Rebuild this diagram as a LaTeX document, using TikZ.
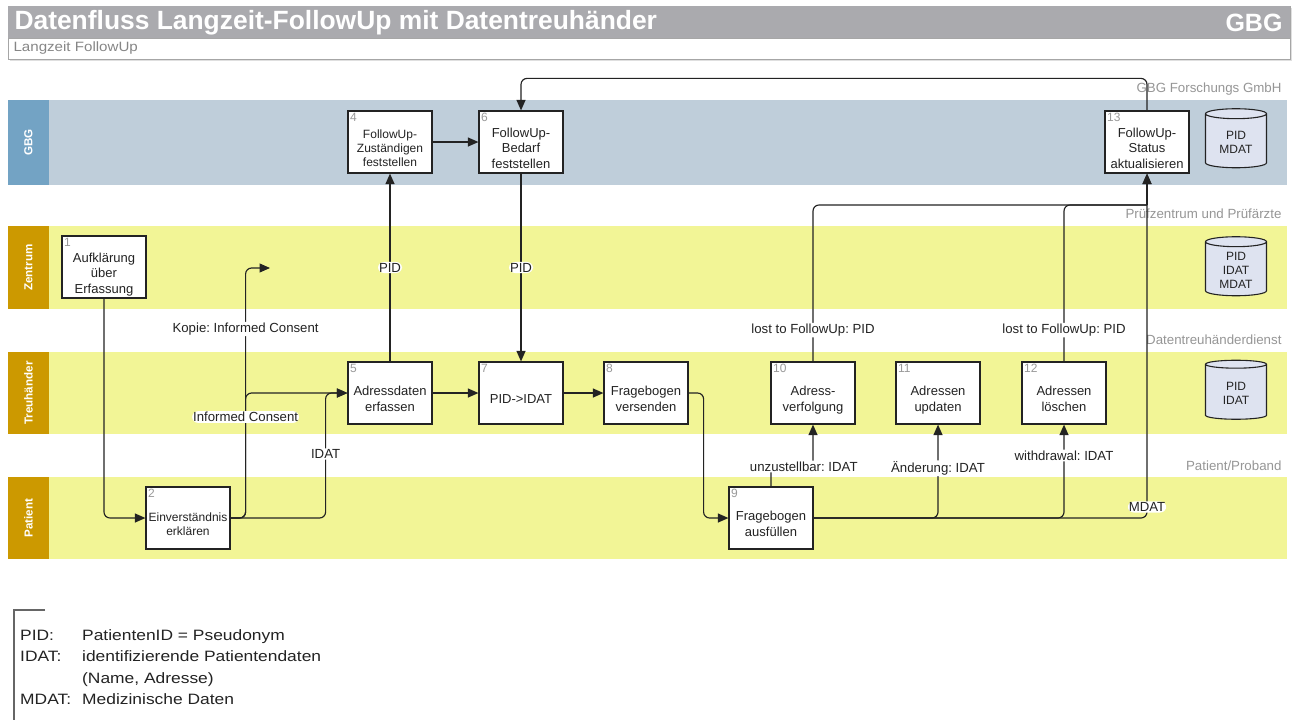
\documentclass[tikz,border=0pt]{standalone}
\usepackage{fontspec}
\setmainfont{Liberation Sans}
\newfontfamily\legendfont[FakeStretch=1.16]{Liberation Sans}
\newfontfamily\subfont[FakeStretch=1.12]{Liberation Sans}
\usetikzlibrary{arrows.meta,shapes.geometric}
\definecolor{gbglane}{RGB}{191,206,218}
\definecolor{gbglabel}{RGB}{115,163,196}
\definecolor{ylane}{RGB}{242,245,150}
\definecolor{ylabel}{RGB}{204,153,0}
\definecolor{titlegray}{RGB}{170,170,174}
\definecolor{hdrgray}{RGB}{150,150,150}
\definecolor{cylfill}{RGB}{222,227,240}
\definecolor{ink}{RGB}{35,35,35}
\newcommand\bt[1]{\raisebox{-7.5pt}[\height][\depth]{\begin{tabular}{@{}c@{}}#1\end{tabular}}}
\newcommand\ct[1]{\raisebox{-3pt}[\height][\depth]{\begin{tabular}{@{}c@{}}#1\end{tabular}}}
\tikzset{
  proc/.style={draw=ink, line width=1.2pt, fill=white, minimum width=84pt, minimum height=62pt,
    inner sep=0pt, font=\fontsize{13}{15.5}\selectfont, text=ink},
  num/.style={anchor=north west, inner sep=2.5pt, font=\fontsize{12}{12}\selectfont, text=gray!80},
  flow/.style={draw=ink, line width=1.15pt, rounded corners=6pt, -{Triangle[length=10.5pt,width=9pt]}},
  plain/.style={draw=ink, line width=1.15pt, rounded corners=6pt},
  elabel/.style={fill=white, inner sep=1pt, font=\fontsize{13.2}{14}\selectfont, text=ink},
  lanelabel/.style={rotate=90, text=white, font=\bfseries\fontsize{11.6}{12}\selectfont},
  hdr/.style={anchor=east, text=hdrgray, font=\fontsize{13.3}{14}\selectfont},
  db/.style={cylinder, shape border rotate=90, draw=ink, line width=1.1pt, fill=cylfill,
    minimum width=61pt, minimum height=59pt, aspect=0.3, align=center, inner sep=0pt,
    font=\fontsize{12}{14}\selectfont, text=ink},
}
\begin{document}
\frenchspacing
\begin{tikzpicture}[x=1pt,y=-1pt]
\useasboundingbox (0,0) rectangle (1292,721);
\fill[white] (0,0) rectangle (1292,721);
% header
\fill[gray!25] (9.5,7.5) rectangle (1291.5,61);
\draw[gray!70, line width=1pt, fill=white] (8,6) rectangle (1290,59);
\fill[titlegray] (8,6) rectangle (1290,38);
\draw[gray!70, line width=1pt] (8,38) -- (1290,38);
\node[anchor=west, text=white, font=\bfseries\fontsize{26.4}{28}\selectfont] (title) at (11,22.5) {Datenfluss Langzeit-FollowUp mit Datentreuhänder};
\node[anchor=east, text=white, font=\bfseries\fontsize{25}{27}\selectfont] (gbgt) at (1286,22.5) {GBG};
\node[anchor=west, text=gray!95, font=\subfont\fontsize{13.5}{14}\selectfont] (sub) at (10,48.5) {Langzeit FollowUp};
% lanes
\fill[gbglane] (49,100) rectangle (1287,185);
\fill[gbglabel] (8,100) rectangle (49,185);
\fill[ylane] (49,226) rectangle (1287,309);
\fill[ylabel] (8,226) rectangle (49,309);
\fill[ylane] (49,352) rectangle (1287,434);
\fill[ylabel] (8,352) rectangle (49,434);
\fill[ylane] (49,477) rectangle (1287,559);
\fill[ylabel] (8,477) rectangle (49,559);
\node[lanelabel] (l1) at (28.5,142.5) {GBG};
\node[lanelabel] (l2) at (28.5,267.5) {Zentrum};
\node[lanelabel] (l3) at (28.5,393) {Treuhänder};
\node[lanelabel] (l4) at (28.5,518) {Patient};
\node[hdr] (h1) at (1285,89) {GBG Forschungs GmbH};
\node[hdr] (h2) at (1285,214) {Prüfzentrum und Prüfärzte};
\node[hdr] (h3) at (1285,340) {Datentreuhänderdienst};
\node[hdr] (h4) at (1285,466) {Patient/Proband};
% boxes
\node[proc, label={[num]north west:1}] (b1) at (104,267) {\bt{Aufklärung\\über\\Erfassung}};
\node[proc, font=\fontsize{12}{14.5}\selectfont, label={[num]north west:2}] (b2) at (188,518) {\bt{Einverständnis\\erklären}};
\node[proc, font=\fontsize{12}{14}\selectfont, label={[num]north west:4}] (b4) at (390,142) {\bt{FollowUp-\\Zuständigen\\feststellen}};
\node[proc, label={[num]north west:6}] (b6) at (521,142) {\bt{FollowUp-\\Bedarf\\feststellen}};
\node[proc, label={[num]north west:13}] (b13) at (1147,142) {\bt{FollowUp-\\Status\\aktualisieren}};
\node[proc, label={[num]north west:5}] (b5) at (390,393) {\bt{Adressdaten\\erfassen}};
\node[proc, label={[num]north west:7}] (b7) at (521,393) {\bt{PID->IDAT}};
\node[proc, label={[num]north west:8}] (b8) at (646,393) {\bt{Fragebogen\\versenden}};
\node[proc, label={[num]north west:9}] (b9) at (771,518) {\bt{Fragebogen\\ausfüllen}};
\node[proc, label={[num]north west:10}] (b10) at (813,393) {\bt{Adress-\\verfolgung}};
\node[proc, label={[num]north west:11}] (b11) at (938,393) {\bt{Adressen\\updaten}};
\node[proc, label={[num]north west:12}] (b12) at (1064,393) {\bt{Adressen\\löschen}};
% databases
\node[db] (c1) at (1236,141) {\ct{PID\\MDAT}};
\node[db] (c2) at (1236,269) {\ct{PID\\IDAT\\MDAT}};
\node[db] (c3) at (1236,392) {\ct{PID\\IDAT}};
% helper coordinates
\coordinate (kc) at (270,268);
\coordinate (m13) at (1147,205);
% connectors
\draw[flow] (b4) -- (b6);
\draw[flow] (b5) -- (b7);
\draw[flow] (b7) -- (b8);
\draw[flow] (b5.north) -- node[elabel]{PID} (b4.south);
\draw[flow] (b6.south) -- node[elabel]{PID} (b7.north);
\draw[flow] (b8.east) -- ++(15,0) |- (b9.west);
\draw[flow] (b1.south) |- (b2.west);
\draw[flow] (b2.east) -- ++(15,0) |- node[pos=0.378, elabel]{Kopie: Informed Consent} (kc);
\draw[flow] (b2.east) -- ++(15,0) |- node[pos=0.404, elabel]{Informed Consent} (b5.west);
\draw[flow] (b2.east) -- ++(95,0) |- node[pos=0.256, elabel]{IDAT} (b5.west);
\draw[flow] (b9.north) -- ++(0,-20) -| node[pos=0.39, elabel]{unzustellbar: IDAT} (b10.south);
\draw[flow] (b9.east) -| node[pos=0.766, elabel]{Änderung: IDAT} (b11.south);
\draw[flow] (b9.east) -| node[pos=0.835, elabel]{withdrawal: IDAT} (b12.south);
\draw[flow] (b9.east) -| node[pos=0.516, elabel]{MDAT} (b13.south);
\draw[plain] (b10.north) |- node[pos=0.1, elabel]{lost to FollowUp: PID} (m13);
\draw[plain] (b12.north) |- node[pos=0.1, elabel]{lost to FollowUp: PID} (m13);
\draw[flow] (m13) -- (b13.south);
\draw[flow] (b13.north) -- ++(0,-32) -| (b6.north);
% legend
\draw[gray!80!black, line width=1.3pt] (45,610) -- (14,610) -- (14,720);
\node[anchor=north west, inner sep=0pt, font=\legendfont\fontsize{15}{21.5}\selectfont, text=ink] (legend) at (20,625)
 {\begin{tabular}{@{}p{62pt}@{}l@{}}PID: & PatientenID = Pseudonym\\ IDAT: & identifizierende Patientendaten\\ & (Name, Adresse)\\ MDAT: & Medizinische Daten\end{tabular}};
\end{tikzpicture}
\end{document}
